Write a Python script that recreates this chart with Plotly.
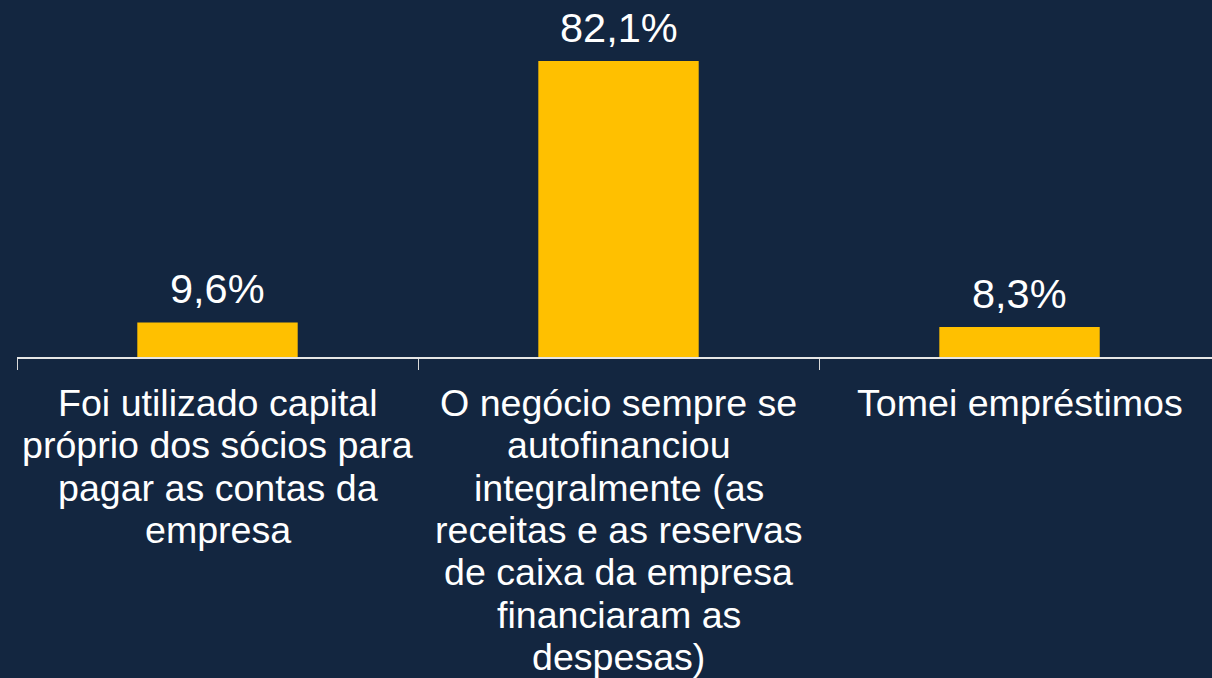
import plotly.graph_objects as go

categories = ["cat1", "cat2", "cat3"]
values = [9.6, 82.1, 8.3]
value_labels = ["9,6%", "82,1%", "8,3%"]
category_lines = [
    ["Foi utilizado capital", "próprio dos sócios para", "pagar as contas da", "empresa"],
    ["O negócio sempre se", "autofinanciou", "integralmente (as", "receitas e as reservas",
     "de caixa da empresa", "financiaram as", "despesas)"],
    ["Tomei empréstimos"],
]

BG = "#132640"
BAR = "#FFC000"
FONT = "Arial, Liberation Sans, sans-serif"

fig = go.Figure()
fig.add_trace(go.Bar(x=categories, y=values, marker=dict(color=BAR, line=dict(width=0)),
                     width=0.4, hoverinfo="skip"))

annotations = []
for c, v, lab in zip(categories, values, value_labels):
    annotations.append(dict(x=c, y=v, xref="x", yref="y", text=lab, showarrow=False,
                            yanchor="bottom", yshift=8,
                            font=dict(family=FONT, size=41.5, color="white")))
for c, lines in zip(categories, category_lines):
    for j, line in enumerate(lines):
        annotations.append(dict(x=c, y=0, xref="x", yref="y", text=line, showarrow=False,
                                yanchor="middle", yshift=-(46 + j * 42.3),
                                font=dict(family=FONT, size=37.6, color="white")))

fig.update_layout(
    width=1212, height=678,
    margin=dict(l=17, r=0, t=0, b=321),
    paper_bgcolor=BG, plot_bgcolor=BG,
    showlegend=False,
    annotations=annotations,
    xaxis=dict(range=[-0.5, 2.48], showticklabels=False, tickson="boundaries",
               ticks="outside", ticklen=11, tickcolor="#d9d9d9", tickwidth=1.3,
               showline=True, linecolor="#e6e6e6", linewidth=1.5, showgrid=False,
               zeroline=False),
    yaxis=dict(range=[0, 99], visible=False, showgrid=False, zeroline=False),
)

fig.write_html("out.html", config={"displayModeBar": False},
               post_script="document.body.style.margin='0';document.body.style.overflow='hidden';")
